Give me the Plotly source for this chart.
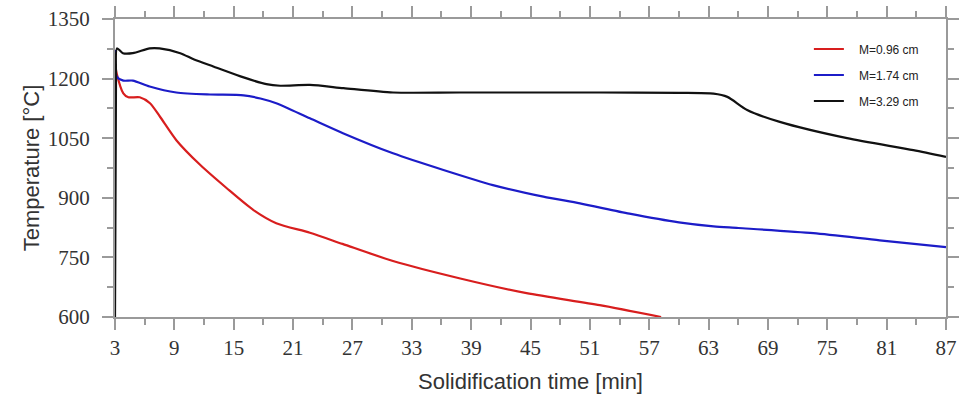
import plotly.graph_objects as go

# --- data ---
t_red = [3.0, 3.17, 3.84, 4.35, 5.5, 6.54, 7.55, 9.2, 11.6, 14.3, 17.0, 19.3, 22.7, 26.0, 31.1, 37.9, 44.6, 52.0, 58.2]
T_red = [1238, 1213, 1163, 1153, 1153, 1138, 1104, 1045, 983, 924, 869, 836, 812, 784, 741, 697, 660, 630, 600]

t_blue = [3.0, 3.17, 3.84, 4.8, 6.5, 9.2, 12.6, 16.0, 17.7, 19.3, 22.7, 26.1, 31.1, 36.2, 41.2, 46.3, 50.0, 55.0, 60.0, 63.5, 66.0, 73.6, 80.3, 87.0]
T_blue = [1272, 1205, 1195, 1195, 1180, 1165, 1160, 1158, 1150, 1138, 1100, 1062, 1012, 970, 932, 903, 886, 860, 838, 828, 824, 811, 793, 776]

t_black = [3.0, 3.1, 3.2, 3.8, 4.8, 6.5, 7.5, 9.6, 11.0, 13.0, 16.0, 18.3, 19.7, 22.7, 26.1, 31.1, 37.8, 52.0, 60.0, 63.5, 64.9, 66.9, 70.2, 77.0, 83.7, 87.0]
T_black = [600, 1200, 1276, 1264, 1264, 1276, 1276, 1264, 1248, 1230, 1203, 1186, 1182, 1184, 1176, 1165, 1165, 1165, 1164, 1162, 1154, 1121, 1091, 1050, 1020, 1003]

series_names = ["M=0.96 cm", "M=1.74 cm", "M=3.29 cm"]
series_colors = ["#d81e1e", "#1c1cc8", "#111111"]

x_ticks = list(range(3, 88, 6))
y_ticks = list(range(600, 1351, 150))

fig = go.Figure()
for name, xs, ys, col in zip(series_names, [t_red, t_blue, t_black], [T_red, T_blue, T_black], series_colors):
    fig.add_trace(go.Scatter(x=xs, y=ys, mode="lines", name="\u00a0\u00a0\u00a0" + name,
                             legendgroup=name,
                             line=dict(color=col, width=2.2, shape="spline", smoothing=0.7)))

axis_common = dict(
    showline=True, linecolor="#9a9a9a", linewidth=2, mirror="ticks",
    ticks="outside", ticklen=11, tickwidth=1.5, tickcolor="#9a9a9a",
    showgrid=False, zeroline=False, automargin=False,
    tickfont=dict(family="Liberation Serif", size=21, color="#333333"),
    minor=dict(ticks="outside", ticklen=6, tickwidth=1.5, tickcolor="#9a9a9a", showgrid=False),
)

fig.update_xaxes(range=[3, 87], tickvals=x_ticks, minor_dtick=3, minor_tick0=0,
                 title=dict(text="Solidification time [min]",
                            font=dict(family="Liberation Sans", size=22, color="#333333"), standoff=14),
                 **axis_common)
fig.update_yaxes(range=[600, 1350], tickvals=y_ticks, minor_dtick=75, minor_tick0=600,
                 ticklabelstandoff=8,
                 title=dict(text="Temperature [°C]",
                            font=dict(family="Liberation Sans", size=22, color="#333333"), standoff=2),
                 **axis_common)

fig.update_layout(
    width=966, height=402,
    margin=dict(l=115, r=20, t=19, b=85),
    paper_bgcolor="white", plot_bgcolor="white",
    legend=dict(x=0.835, y=0.948, xanchor="left", yanchor="top",
                font=dict(family="Liberation Sans", size=12, color="#222222"),
                bgcolor="rgba(255,255,255,0)", tracegroupgap=7),
    showlegend=True,
)

fig.write_html("out.html")
